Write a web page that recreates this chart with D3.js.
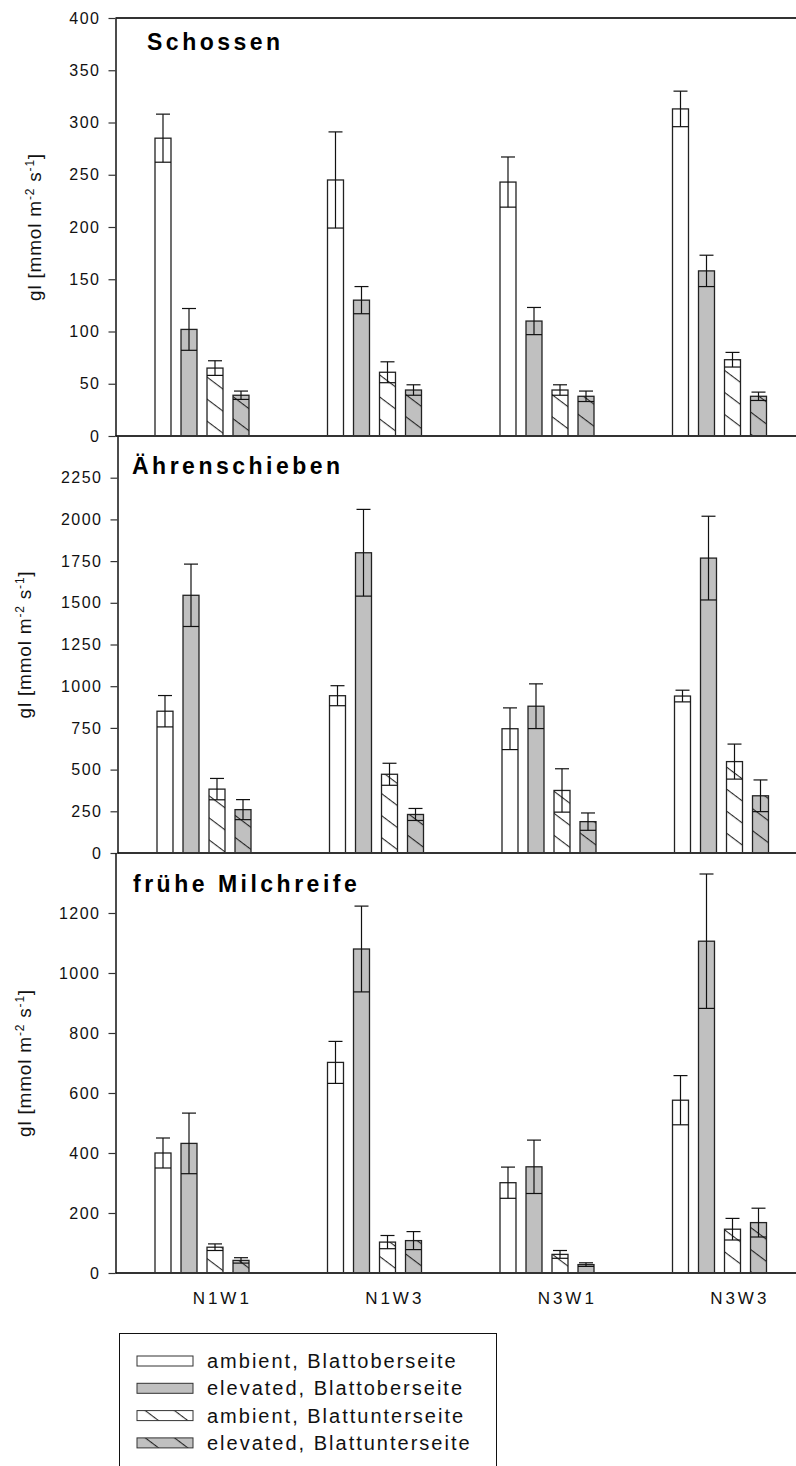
<!DOCTYPE html>
<html>
<head>
<meta charset="utf-8">
<script src="https://cdn.jsdelivr.net/npm/d3@7"></script>
<style>
  body { margin: 0; background: #fff; }
  svg { display: block; font-family: "Liberation Sans", Arial, sans-serif; }
</style>
</head>
<body>
<div id="chart"></div>
<script>
// stomatal conductance, three growth stages, 4 treatments x 4 series

const width = 796, height = 1466;

const categories = ["N1W1", "N1W3", "N3W1", "N3W3"];
const series = ["ambient, Blattoberseite", "elevated, Blattoberseite",
                "ambient, Blattunterseite", "elevated, Blattunterseite"];
const stages = ["Schossen", "Ährenschieben", "frühe Milchreife"];

// means, one row per series (same order as `series`), one column per category
const schossenMean = [[285, 245, 243, 313], [102, 130, 110, 158], [65, 61, 44, 73], [39, 44, 38, 38]];
const schossenErr  = [[23, 46, 24, 17], [20, 13, 13, 15], [7, 10, 5, 7], [4, 5, 5, 4]];

const aehrenMean = [[850, 943, 745, 941], [1545, 1800, 880, 1768], [383, 472, 375, 548], [260, 231, 188, 343]];
const aehrenErr  = [[94, 60, 125, 35], [187, 260, 134, 251], [64, 66, 130, 105], [60, 36, 52, 95]];

const milchMean = [[400, 702, 301, 576], [432, 1080, 354, 1106], [86, 103, 62, 146], [42, 108, 28, 168]];
const milchErr  = [[50, 70, 52, 82], [101, 143, 89, 224], [11, 22, 13, 36], [9, 30, 6, 48]];

// y tick labels per panel
const schossenTicks = [0, 50, 100, 150, 200, 250, 300, 350, 400];
const aehrenTicks = [0, 250, 500, 750, 1000, 1250, 1500, 1750, 2000, 2250];
const milchTicks = [0, 200, 400, 600, 800, 1000, 1200];

// layout for each panel
const panels = [
  { title: stages[0], mean: schossenMean, err: schossenErr, ticks: schossenTicks, max: 400,
    top: 18, bottom: 436, dx: 0, titleX: 147, titleY: 50, labelX: 41 },
  { title: stages[1], mean: aehrenMean, err: aehrenErr, ticks: aehrenTicks, max: 2500,
    top: 436, bottom: 853, dx: 2, titleX: 132, titleY: 474, labelX: 31 },
  { title: stages[2], mean: milchMean, err: milchErr, ticks: milchTicks, max: 1400,
    top: 853, bottom: 1273, dx: 0, titleX: 133, titleY: 892, labelX: 31 }
];

const axisX = 115.5, rightX = 796;
const font = "'Liberation Sans', Arial, sans-serif";

const svg = d3.select("#chart")
  .append("svg")
  .attr("width", width)
  .attr("height", height)
  .attr("viewBox", [0, 0, width, height]);

// hatch patterns (lines running down to the right)
const defs = svg.append("defs");
const fills = ["#ffffff", "#c0c0c0", "url(#hatch-white)", "url(#hatch-gray)"];
[["hatch-white", "#ffffff"], ["hatch-gray", "#c0c0c0"]].forEach(([id, bg]) => {
  const p = defs.append("pattern")
    .attr("id", id)
    .attr("patternUnits", "userSpaceOnUse")
    .attr("width", 8)
    .attr("height", 17.6)
    .attr("patternTransform", "rotate(37)");
  p.append("rect").attr("width", 8).attr("height", 17.6).attr("fill", bg);
  p.append("line")
    .attr("x1", 0).attr("x2", 8)
    .attr("y1", 0.6).attr("y2", 0.6)
    .attr("stroke", "#111")
    .attr("stroke-width", 1);
});

// category scale (group) and series scale (bar inside group)
const x0 = d3.scaleBand()
  .domain(categories)
  .range([136, 136 + 4 * 172.5]);

const x1 = d3.scaleBand()
  .domain(series)
  .range([19, 113])
  .paddingInner(0.385);

panels.forEach((p, pi) => {
  const g = svg.append("g").attr("transform", `translate(${p.dx},0)`);

  const y = d3.scaleLinear()
    .domain([0, p.max])
    .range([p.bottom, p.top]);

  // bars
  series.forEach((s, si) => {
    const rows = categories.map((c, ci) => ({ c, s, m: p.mean[si][ci], e: p.err[si][ci] }));

    g.append("g")
      .selectAll("rect")
      .data(rows)
      .join("rect")
      .attr("x", d => x0(d.c) + x1(d.s))
      .attr("y", d => y(d.m))
      .attr("width", x1.bandwidth())
      .attr("height", d => y(0) - y(d.m))
      .attr("fill", fills[si])
      .attr("stroke", "#222")
      .attr("stroke-width", 1.3);

    // error bars
    const eb = g.append("g")
      .attr("stroke", "#111")
      .attr("stroke-width", 1.2)
      .selectAll("g")
      .data(rows)
      .join("g");

    eb.append("line")
      .attr("x1", d => x0(d.c) + x1(d.s) + x1.bandwidth() / 2)
      .attr("x2", d => x0(d.c) + x1(d.s) + x1.bandwidth() / 2)
      .attr("y1", d => y(d.m - d.e))
      .attr("y2", d => y(d.m + d.e));
    eb.append("line")
      .attr("x1", d => x0(d.c) + x1(d.s) + 1)
      .attr("x2", d => x0(d.c) + x1(d.s) + x1.bandwidth() - 1)
      .attr("y1", d => y(d.m + d.e))
      .attr("y2", d => y(d.m + d.e));
    eb.append("line")
      .attr("x1", d => x0(d.c) + x1(d.s))
      .attr("x2", d => x0(d.c) + x1(d.s) + x1.bandwidth())
      .attr("y1", d => y(d.m - d.e))
      .attr("y2", d => y(d.m - d.e));
  });

  // x axis line (baseline)
  g.append("line")
    .attr("x1", axisX).attr("x2", rightX - p.dx)
    .attr("y1", y(0)).attr("y2", y(0))
    .attr("stroke", "#333")
    .attr("stroke-width", 2.2);

  // top frame line
  if (pi === 0) {
    g.append("line")
      .attr("x1", axisX).attr("x2", rightX)
      .attr("y1", y(p.max)).attr("y2", y(p.max))
      .attr("stroke", "#333")
      .attr("stroke-width", 2);
  }

  // y axis
  const ya = g.append("g")
    .attr("transform", `translate(${axisX},0)`)
    .call(d3.axisLeft(y)
      .tickValues(p.ticks)
      .tickFormat(d3.format("d"))
      .tickSize(7)
      .tickSizeOuter(0)
      .tickPadding(8));
  ya.select(".domain").attr("stroke", "#111").attr("stroke-width", 1.5);
  ya.selectAll(".tick line").attr("stroke", "#333").attr("stroke-width", 1.2);
  ya.selectAll(".tick text")
    .attr("font-size", 16)
    .attr("letter-spacing", "1.5px")
    .attr("fill", "#111")
    .attr("font-family", font);

  // panel title
  svg.append("text")
    .attr("x", p.titleX)
    .attr("y", p.titleY)
    .attr("font-size", 23)
    .attr("font-weight", "bold")
    .attr("letter-spacing", "3.5px")
    .attr("fill", "#000")
    .text(p.title);

  // y axis label
  const lab = svg.append("text")
    .attr("transform", `translate(${p.labelX},${(p.top + p.bottom) / 2}) rotate(-90)`)
    .attr("text-anchor", "middle")
    .attr("font-size", 19)
    .attr("letter-spacing", "0.8px")
    .attr("fill", "#111");
  lab.append("tspan").text("gl [mmol m");
  lab.append("tspan").attr("font-size", 12).attr("dy", -7).text("-2");
  lab.append("tspan").attr("dy", 7).text(" s");
  lab.append("tspan").attr("font-size", 12).attr("dy", -7).text("-1");
  lab.append("tspan").attr("dy", 7).text("]");
});

// category labels under the last panel
const xa = svg.append("g")
  .attr("transform", `translate(0,${panels[2].bottom})`)
  .call(d3.axisBottom(x0).tickSize(0).tickPadding(19));
xa.select(".domain").remove();
xa.selectAll(".tick text")
  .attr("font-size", 17)
  .attr("letter-spacing", "3px")
  .attr("fill", "#111")
  .attr("font-family", font);

// legend
const legend = svg.append("g");
legend.append("rect")
  .attr("x", 119.5).attr("y", 1333.5)
  .attr("width", 377).attr("height", 150)
  .attr("fill", "none")
  .attr("stroke", "#111")
  .attr("stroke-width", 1);

const li = legend.selectAll("g.item")
  .data(series)
  .join("g")
  .attr("class", "item")
  .attr("transform", (d, i) => `translate(0,${1356 + i * 27.3})`);

li.append("rect")
  .attr("x", 137).attr("y", 0)
  .attr("width", 56).attr("height", 10)
  .attr("fill", (d, i) => fills[i])
  .attr("stroke", "#333")
  .attr("stroke-width", 1);

li.append("text")
  .attr("x", 207).attr("y", 12)
  .attr("font-size", 20)
  .attr("letter-spacing", "2px")
  .attr("fill", "#111")
  .text(d => d);
</script>
</body>
</html>
